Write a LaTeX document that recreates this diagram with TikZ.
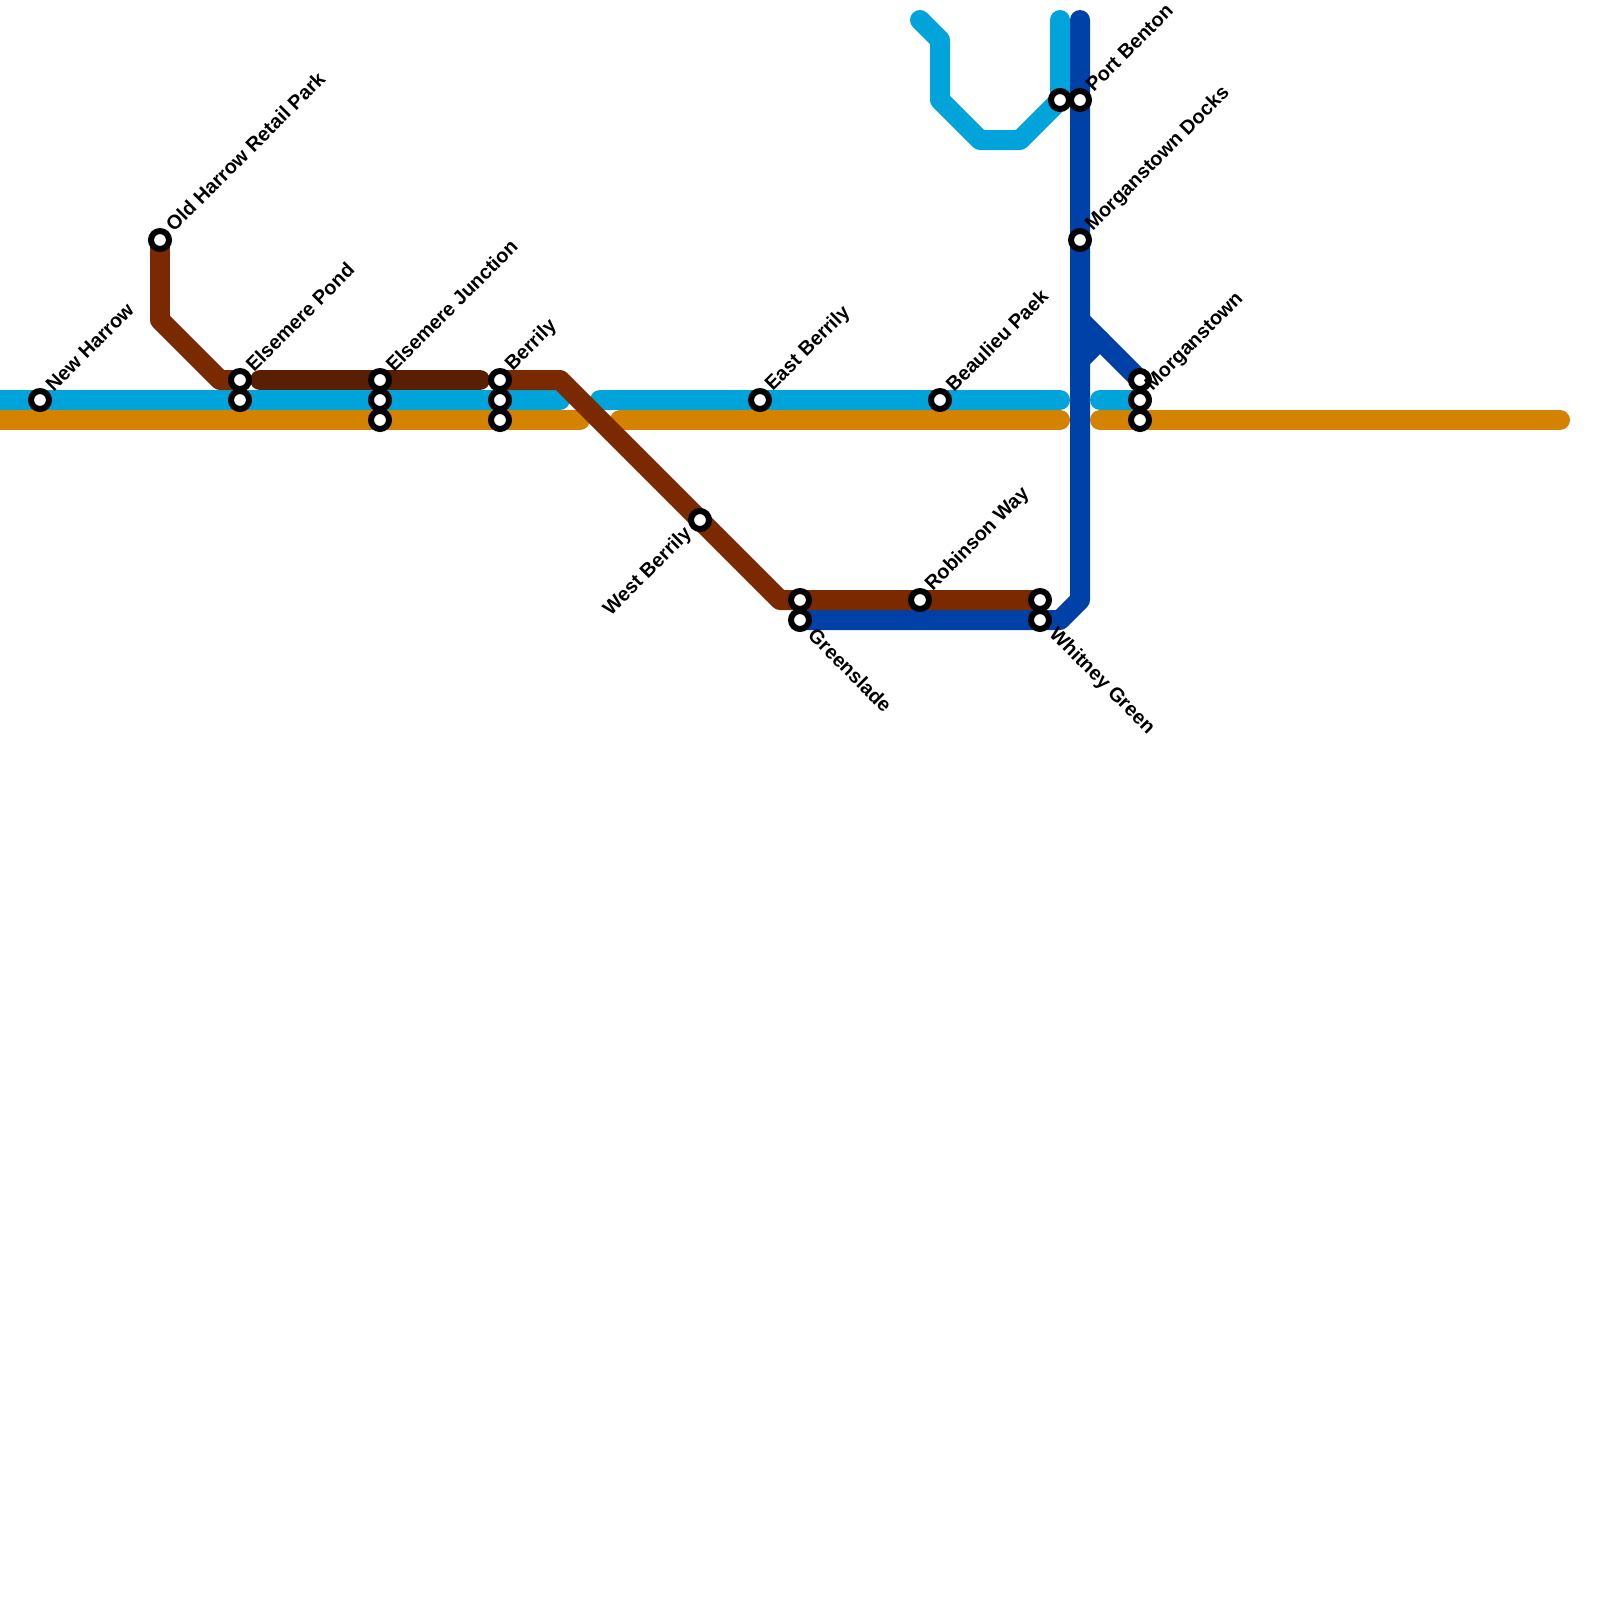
\documentclass[tikz,border=0pt]{standalone}
\usepackage{fontspec}
\setmainfont{Liberation Sans}
\usetikzlibrary{backgrounds}
\definecolor{lineorange}{HTML}{D48300}
\definecolor{linesky}{HTML}{00A4DA}
\definecolor{linenavy}{HTML}{0041A8}
\definecolor{linebrown}{HTML}{7A2900}
\definecolor{linedark}{HTML}{5A1E00}
\begin{document}
\begin{tikzpicture}[x=0.02cm, y=-0.02cm,
    station/.style={draw=black, fill=white, circle, line width=0.12cm, minimum size=0.36cm, inner sep=0pt},
    route/.style={line width=0.4cm, line cap=round, line join=round},
    stationname/.style={inner sep=0.31cm, font=\fontsize{11.3}{13}\selectfont\bfseries},
    nameup/.style={stationname, anchor=west, xshift=-0.04cm, yshift=0.02cm, rotate=45},
    namedown/.style={stationname, inner sep=0.33cm, anchor=west, rotate=-45},
    nameback/.style={stationname, anchor=east, rotate=45}]
  \useasboundingbox (0,0) rectangle (1600,1600);

  \coordinate (skywest) at (-20,400);
  \coordinate (skyeast) at (560,400);
  \coordinate (skymid) at (600,400);
  \coordinate (skystop) at (1060,400);
  \coordinate (skynext) at (1100,400);
  \coordinate (orangewest) at (-20,420);
  \coordinate (orangeeast) at (580,420);
  \coordinate (orangemid) at (620,420);
  \coordinate (orangestop) at (1060,420);
  \coordinate (orangenext) at (1100,420);
  \coordinate (orangeend) at (1560,420);
  \coordinate (hooktop) at (920,20);
  \coordinate (hooka) at (940,40);
  \coordinate (hookb) at (940,100);
  \coordinate (hookc) at (980,140);
  \coordinate (hookd) at (1020,140);
  \coordinate (hooktip) at (1060,20);
  \coordinate (navytop) at (1080,20);
  \coordinate (navybend) at (1080,600);
  \coordinate (navyfoot) at (1060,620);
  \coordinate (navyfork) at (1080,320);
  \coordinate (navystuba) at (1080,360);
  \coordinate (navystubb) at (1100,340);
  \coordinate (brownbenda) at (160,320);
  \coordinate (brownbendb) at (220,380);
  \coordinate (brownbendc) at (560,380);
  \coordinate (brownbendd) at (780,600);
  \coordinate (darkwest) at (260,380);
  \coordinate (darkeast) at (480,380);

  \node (newharrow) [station] at (40,400) {};
  \node (oldharrow) [station] at (160,240) {};
  \node (pond) [station] at (240,380) {};
  \node (pondlow) [station] at (240,400) {};
  \node (junction) [station] at (380,380) {};
  \node (junctionmid) [station] at (380,400) {};
  \node (junctionlow) [station] at (380,420) {};
  \node (berrily) [station] at (500,380) {};
  \node (berrilymid) [station] at (500,400) {};
  \node (berrilylow) [station] at (500,420) {};
  \node (westberrily) [station] at (700,520) {};
  \node (eastberrily) [station] at (760,400) {};
  \node (greenup) [station] at (800,600) {};
  \node (greenslade) [station] at (800,620) {};
  \node (robinson) [station] at (920,600) {};
  \node (beaulieu) [station] at (940,400) {};
  \node (whitneyup) [station] at (1040,600) {};
  \node (whitney) [station] at (1040,620) {};
  \node (bentonsky) [station] at (1060,100) {};
  \node (benton) [station] at (1080,100) {};
  \node (docks) [station] at (1080,240) {};
  \node (morganup) [station] at (1140,380) {};
  \node (morgan) [station] at (1140,400) {};
  \node (morganlow) [station] at (1140,420) {};

  \node (newharrowname) [nameup] at (newharrow.center) {New Harrow};
  \node (oldharrowname) [nameup] at (oldharrow.center) {Old Harrow Retail Park};
  \node (pondname) [nameup] at (pond.center) {Elsemere Pond};
  \node (junctionname) [nameup] at (junction.center) {Elsemere Junction};
  \node (berrilyname) [nameup] at (berrily.center) {Berrily};
  \node (westberrilyname) [nameback] at (westberrily.center) {West Berrily};
  \node (eastberrilyname) [nameup] at (eastberrily.center) {East Berrily};
  \node (greensladename) [namedown] at (greenslade.center) {Greenslade};
  \node (robinsonname) [nameup] at (robinson.center) {Robinson Way};
  \node (beaulieuname) [nameup] at (beaulieu.center) {Beaulieu Paek};
  \node (whitneyname) [namedown] at (whitney.center) {Whitney Green};
  \node (bentonname) [nameup] at (benton.center) {Port Benton};
  \node (docksname) [nameup] at (docks.center) {Morganstown Docks};
  \node (morganname) [nameup] at (morgan.center) {Morganstown};

  \begin{scope}[on background layer]
    \draw[route, lineorange] (orangewest) -- (junctionlow.center) -- (berrilylow.center) -- (orangeeast);
    \draw[route, lineorange] (orangemid) -- (orangestop);
    \draw[route, lineorange] (orangenext) -- (morganlow.center) -- (orangeend);
    \draw[route, linesky] (skywest) -- (newharrow.center) -- (pondlow.center) -- (junctionmid.center) -- (berrilymid.center) -- (skyeast);
    \draw[route, linesky] (skymid) -- (eastberrily.center) -- (beaulieu.center) -- (skystop);
    \draw[route, linesky] (skynext) -- (morgan.center);
    \draw[route, linesky] (hooktop) -- (hooka) -- (hookb) -- (hookc) -- (hookd) -- (bentonsky.center) -- (hooktip);
    \draw[route, linenavy] (navytop) -- (benton.center) -- (docks.center) -- (navybend) -- (navyfoot) -- (whitney.center) -- (greenslade.center);
    \draw[route, linenavy] (navyfork) -- (morganup.center);
    \draw[route, linenavy] (navystuba) -- (navystubb);
    \draw[route, linebrown] (oldharrow.center) -- (brownbenda) -- (brownbendb) -- (pond.center);
    \draw[route, linebrown] (berrily.center) -- (brownbendc) -- (westberrily.center) -- (brownbendd) -- (greenup.center) -- (robinson.center) -- (whitneyup.center);
    \draw[route, linedark] (darkwest) -- (junction.center) -- (darkeast);
  \end{scope}
\end{tikzpicture}
\end{document}
